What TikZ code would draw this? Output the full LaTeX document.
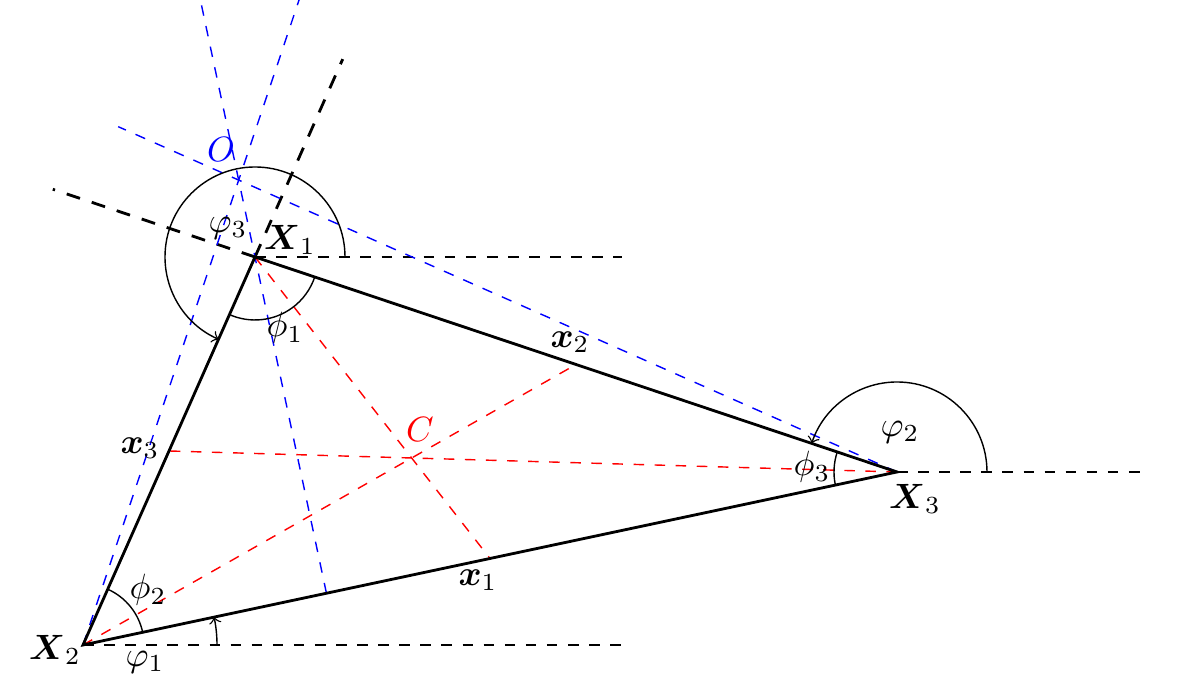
\documentclass[tikz,border=0pt]{standalone}
\usepackage{amsmath}
\usepackage{amssymb}
\usetikzlibrary{calc}
\tikzset{
	side/.style={thick},
	hline/.style={dashed},
	extline/.style={thick, dash pattern=on 4pt off 3.5pt},
	altline/.style={blue, dashed},
	medline/.style={red, dashed},
	angarc/.style={},
	angarr/.style={->}
}

\begin{document}
\begin{tikzpicture}
				\useasboundingbox (0,0) rectangle (12,6.85);
				\clip (0,0) rectangle (12,6.85);
				\coordinate (X1) at (2.55, 4.28);
				\coordinate (X2) at (0.83, 0.40);
				\coordinate (X3) at (8.97, 2.13);
				\coordinate (M1) at ($(X2)!0.5!(X3)$);
				\coordinate (M2) at ($(X1)!0.5!(X3)$);
				\coordinate (M3) at ($(X1)!0.5!(X2)$);
				\coordinate (H1) at ($(X2)!(X1)!(X3)$);
				\coordinate (H2) at ($(X1)!(X2)!(X3)$);
				\coordinate (H3) at ($(X1)!(X3)!(X2)$);
				\coordinate (C) at (intersection of X1--M1 and X2--M2);
				\coordinate (O) at (intersection of X1--H1 and X3--H3);
				\coordinate (E1) at ($(X1)+(3.67,0)$);
				\coordinate (E2) at ($(X2)+(5.45,0)$);
				\coordinate (E3) at ($(X3)+(2.43,0)$);
				\coordinate (F1) at ($(X2)!1.51!(X1)$);
				\coordinate (F2) at ($(X3)!1.315!(X1)$);
				\coordinate (T1) at ($(H1)!1.85!(X1)$);
				\coordinate (T2) at ($(X2)!1.45!(O)$);
				\coordinate (T3) at ($(X3)!1.183!(O)$);
				\draw[hline] (X1) -- (E1);
				\draw[hline] (X2) -- (E2);
				\draw[hline] (X3) -- (E3);
				\draw[extline] (X1) -- (F1);
				\draw[extline] (X1) -- (F2);
				\draw[altline] (H1) -- (T1);
				\draw[altline] (X2) -- (T2);
				\draw[altline] (X3) -- (T3);
				\draw[medline] (X1) -- (M1);
				\draw[medline] (X2) -- (M2);
				\draw[medline] (X3) -- (M3);
				\draw[side] (X1) -- (X2) -- (X3) -- cycle;
				\draw[angarr] ($(X1)+(0:0.9)$) arc[start angle=0, end angle=246.1, radius=0.9];
				\draw[angarc] ($(X1)+(-113.9:0.63)$) arc[start angle=-113.9, end angle=-18.5, radius=0.63];
				\draw[angarc] ($(X2)+(12:0.61)$) arc[start angle=12, end angle=66.1, radius=0.61];
				\draw[angarr] ($(X2)+(0:1.34)$) arc[start angle=0, end angle=12, radius=1.34];
				\draw[angarc] ($(X3)+(161.5:0.63)$) arc[start angle=161.5, end angle=192, radius=0.63];
				\draw[angarr] ($(X3)+(0:0.9)$) arc[start angle=0, end angle=161.5, radius=0.9];
				\node (LX1) at (2.90, 4.45) {$\boldsymbol{X}_1$};
				\node (LX2) at (0.55, 0.35) {$\boldsymbol{X}_2$};
				\node (LX3) at (9.15, 1.86) {$\boldsymbol{X}_3$};
				\node (Lx1) at (4.78, 1.05) {$\boldsymbol{x}_1$};
				\node (Lx2) at (5.70, 3.43) {$\boldsymbol{x}_2$};
				\node (Lx3) at (1.40, 2.37) {$\boldsymbol{x}_3$};
				\node[blue] (LO) at (2.21, 5.35) {$O$};
				\node[red] (LC) at (4.20, 2.55) {$C$};
				\node (Lvphi3) at (2.28, 4.57) {$\varphi_3$};
				\node (Lphi1) at (2.85, 3.57) {$\phi_1$};
				\node (Lphi2) at (1.48, 0.95) {$\phi_2$};
				\node (Lvphi1) at (1.45, 0.23) {$\varphi_1$};
				\node (Lphi3) at (8.12, 2.18) {$\phi_3$};
				\node (Lvphi2) at (9.00, 2.53) {$\varphi_2$};
			\end{tikzpicture}
\end{document}
